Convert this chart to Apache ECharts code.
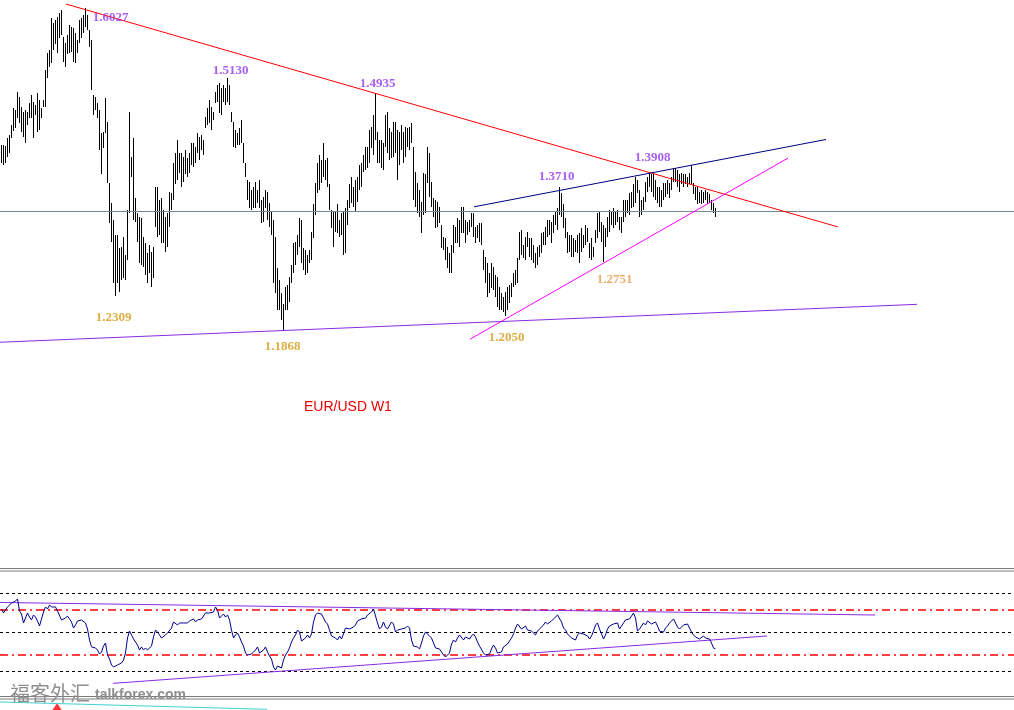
<!DOCTYPE html>
<html>
<head>
<meta charset="utf-8">
<script src="https://cdn.jsdelivr.net/npm/echarts@6/dist/echarts.min.js"></script>
<style>html,body{margin:0;padding:0;background:#fff}#c{width:1014px;height:710px}</style>
</head>
<body>
<div id="c"></div>
<script>
// Weekly EUR/USD bars (high / low), one value per week
const highs = [1.426,1.426,1.424,1.435,1.439,1.452,1.474,1.471,1.494,1.488,1.475,1.468,1.471,1.468,1.480,1.491,1.481,1.478,1.493,1.484,
1.474,1.484,1.523,1.545,1.549,1.590,1.584,1.587,1.591,1.596,1.600,1.565,1.558,1.568,1.581,1.578,1.577,1.571,1.562,1.587,
1.590,1.594,1.603,1.594,1.574,1.562,1.491,1.488,1.480,1.471,1.441,1.442,1.487,1.455,1.377,1.351,1.329,1.310,1.310,1.293,
1.294,1.307,1.284,1.342,1.468,1.410,1.435,1.358,1.338,1.333,1.332,1.307,1.299,1.286,1.297,1.287,1.294,1.372,1.372,1.355,
1.358,1.342,1.333,1.338,1.365,1.364,1.403,1.415,1.432,1.415,1.415,1.410,1.419,1.409,1.415,1.428,1.429,1.423,1.441,1.436,
1.439,1.432,1.462,1.474,1.484,1.475,1.468,1.494,1.504,1.506,1.500,1.504,1.500,1.513,1.504,1.468,1.455,1.445,1.441,1.448,
1.458,1.429,1.402,1.381,1.378,1.368,1.372,1.378,1.368,1.381,1.355,1.359,1.368,1.365,1.351,1.339,1.329,1.307,1.267,1.251,
1.235,1.220,1.242,1.245,1.255,1.271,1.299,1.300,1.310,1.332,1.329,1.293,1.290,1.284,1.290,1.313,1.349,1.377,1.402,1.413,
1.406,1.428,1.406,1.409,1.375,1.342,1.339,1.339,1.349,1.329,1.338,1.339,1.345,1.355,1.375,1.385,1.372,1.381,1.384,1.400,
1.403,1.413,1.423,1.423,1.445,1.449,1.465,1.493,1.442,1.432,1.432,1.429,1.465,1.468,1.448,1.442,1.455,1.455,1.445,1.442,
1.452,1.442,1.449,1.448,1.449,1.454,1.423,1.391,1.377,1.368,1.352,1.390,1.388,1.423,1.415,1.378,1.358,1.355,1.352,1.346,
1.323,1.307,1.306,1.294,1.286,1.297,1.323,1.320,1.332,1.329,1.346,1.346,1.329,1.326,1.329,1.338,1.338,1.320,1.323,1.325,
1.325,1.290,1.281,1.273,1.260,1.273,1.268,1.258,1.255,1.242,1.235,1.230,1.236,1.242,1.245,1.247,1.260,1.264,1.280,1.313,
1.316,1.297,1.307,1.313,1.306,1.306,1.297,1.286,1.294,1.297,1.312,1.313,1.320,1.329,1.329,1.326,1.336,1.339,1.345,1.371,
1.364,1.349,1.332,1.313,1.310,1.310,1.306,1.303,1.310,1.312,1.319,1.310,1.323,1.319,1.299,1.306,1.294,1.316,1.338,1.339,
1.326,1.323,1.319,1.333,1.342,1.339,1.345,1.339,1.342,1.333,1.333,1.355,1.355,1.355,1.364,1.365,1.375,1.384,1.381,1.368,
1.355,1.359,1.378,1.385,1.390,1.388,1.388,1.381,1.371,1.371,1.368,1.377,1.377,1.381,1.377,1.385,1.396,1.396,1.394,1.388,
1.390,1.388,1.388,1.384,1.390,1.400,1.377,1.372,1.371,1.365,1.368,1.365,1.368,1.365,1.362,1.355,1.351,1.345];
const lows = [1.402,1.400,1.403,1.410,1.416,1.435,1.444,1.448,1.461,1.454,1.442,1.436,1.429,1.452,1.461,1.461,1.435,1.465,1.442,1.445,
1.461,1.475,1.475,1.513,1.527,1.532,1.549,1.556,1.545,1.564,1.568,1.533,1.527,1.543,1.545,1.546,1.533,1.532,1.545,1.558,
1.564,1.570,1.578,1.574,1.553,1.497,1.465,1.471,1.461,1.419,1.388,1.422,1.441,1.377,1.325,1.300,1.247,1.231,1.247,1.236,
1.251,1.254,1.251,1.277,1.338,1.385,1.329,1.326,1.300,1.273,1.271,1.268,1.258,1.248,1.260,1.242,1.254,1.320,1.307,1.310,
1.299,1.299,1.287,1.294,1.320,1.342,1.355,1.375,1.381,1.390,1.372,1.378,1.388,1.384,1.390,1.400,1.397,1.403,1.416,1.406,
1.419,1.413,1.448,1.452,1.454,1.445,1.458,1.480,1.481,1.467,1.465,1.481,1.478,1.481,1.478,1.455,1.423,1.422,1.426,1.426,
1.429,1.402,1.384,1.355,1.345,1.342,1.345,1.345,1.351,1.345,1.325,1.326,1.345,1.329,1.320,1.310,1.248,1.235,1.213,1.213,
1.200,1.187,1.213,1.213,1.223,1.247,1.260,1.271,1.284,1.294,1.274,1.264,1.258,1.260,1.273,1.277,1.306,1.336,1.364,1.368,
1.377,1.384,1.381,1.372,1.342,1.319,1.294,1.313,1.312,1.307,1.310,1.284,1.286,1.323,1.345,1.351,1.346,1.339,1.352,1.368,
1.371,1.391,1.394,1.396,1.403,1.422,1.413,1.432,1.403,1.402,1.396,1.394,1.423,1.416,1.406,1.409,1.410,1.416,1.381,1.400,
1.419,1.403,1.410,1.423,1.419,1.428,1.355,1.346,1.338,1.333,1.312,1.336,1.338,1.377,1.359,1.346,1.333,1.319,1.320,1.325,
1.293,1.290,1.277,1.267,1.260,1.260,1.286,1.299,1.299,1.294,1.312,1.312,1.299,1.310,1.313,1.320,1.307,1.299,1.306,1.300,
1.297,1.264,1.248,1.229,1.235,1.241,1.239,1.230,1.217,1.213,1.213,1.210,1.205,1.213,1.222,1.229,1.242,1.245,1.248,1.277,
1.284,1.280,1.277,1.294,1.281,1.277,1.274,1.267,1.271,1.281,1.286,1.297,1.297,1.307,1.310,1.299,1.312,1.323,1.316,1.336,
1.333,1.319,1.306,1.286,1.287,1.281,1.281,1.287,1.286,1.274,1.287,1.293,1.297,1.300,1.280,1.277,1.281,1.299,1.306,1.313,
1.300,1.275,1.294,1.307,1.313,1.323,1.319,1.323,1.326,1.316,1.312,1.326,1.333,1.338,1.336,1.345,1.346,1.351,1.364,1.333,
1.336,1.342,1.352,1.365,1.372,1.365,1.359,1.355,1.351,1.346,1.346,1.355,1.359,1.362,1.358,1.368,1.378,1.378,1.372,1.365,
1.375,1.372,1.375,1.371,1.375,1.375,1.362,1.355,1.349,1.351,1.349,1.351,1.355,1.349,1.351,1.342,1.338,1.333];
// RSI values, one per week
const rsi = [71.0,67.4,70.1,72.8,72.8,76.3,76.3,78.1,79.9,69.2,66.5,58.5,59.4,67.4,63.8,61.2,65.6,63.8,60.3,55.8,
62.1,68.3,72.8,71.0,74.6,72.8,71.9,72.8,69.2,70.1,61.2,61.2,62.9,64.7,62.1,59.4,54.0,56.7,60.3,59.4,
61.2,61.2,58.5,53.1,43.3,37.1,37.1,36.2,34.4,30.8,32.6,37.9,40.6,29.9,26.3,21.0,19.2,20.1,21.0,21.9,
22.8,25.4,31.7,45.1,51.3,50.4,44.2,41.5,38.8,34.4,37.1,34.4,36.2,34.4,33.5,37.9,46.0,52.2,50.4,48.7,
45.1,44.2,47.8,49.6,51.3,54.0,59.4,58.5,56.7,58.5,58.5,58.5,57.6,58.5,60.3,60.3,62.1,59.4,61.2,62.1,
62.1,63.8,67.4,68.3,67.4,68.3,68.3,72.8,70.1,62.9,64.7,66.5,63.8,65.6,61.2,52.2,45.1,47.8,49.6,46.0,
41.5,37.9,31.7,29.9,29.9,30.8,30.8,34.4,37.1,31.7,30.8,34.4,37.1,32.6,29.0,26.3,19.2,16.5,20.1,21.0,
18.3,25.4,29.9,32.6,36.2,41.5,45.1,47.8,52.2,50.4,42.4,43.3,45.1,47.8,45.1,48.7,59.4,65.6,67.4,66.5,
66.5,66.5,59.4,57.6,52.2,46.9,47.8,45.1,43.3,46.9,44.2,48.7,54.0,53.1,53.1,53.1,54.9,56.7,60.3,60.3,
62.1,61.2,62.9,65.6,65.6,68.3,71.0,70.1,58.5,53.1,54.9,59.4,54.9,53.1,54.0,59.4,57.6,50.4,52.2,53.1,
53.1,52.2,54.0,55.8,54.0,43.3,37.9,36.2,37.1,35.3,40.6,46.9,50.4,51.3,46.9,45.1,40.6,36.2,37.9,35.3,
32.6,29.9,28.1,27.2,31.7,39.7,43.3,41.5,45.1,47.8,46.9,43.3,46.0,46.9,44.2,46.9,48.7,46.0,41.5,37.9,
36.2,31.7,29.9,29.9,30.8,35.3,38.8,36.2,31.7,30.8,32.6,37.1,37.1,39.7,42.4,45.1,48.7,54.0,57.6,57.6,
53.1,53.1,55.8,52.2,53.1,51.3,50.4,47.8,51.3,53.1,53.1,56.7,59.4,57.6,57.6,60.3,62.1,63.8,65.6,65.6,
59.4,54.0,52.2,48.7,46.9,45.1,46.0,43.3,47.8,49.6,48.7,48.7,50.4,46.9,44.2,46.9,51.3,56.7,58.5,53.1,
48.7,44.2,47.8,53.1,55.8,56.7,57.6,56.7,58.5,53.1,53.1,58.5,61.2,62.1,62.1,62.9,67.4,62.9,51.3,53.1,
55.8,58.5,56.7,60.3,60.3,57.6,57.6,59.4,55.8,51.3,51.3,50.4,54.0,55.8,58.5,60.3,62.1,58.5,54.9,53.1,
54.0,56.7,56.7,57.6,54.0,50.4,47.8,46.0,46.0,44.2,43.3,46.9,45.1,46.0,44.2,40.6,36.2,35.3];
const rsiLevels = [85, 70, 50, 30, 15];
const currentPrice = 1.338;
// trend lines: [week index, price]
const resistanceLine = [[32.2, 1.608], [418.2, 1.320]];
const upperChannelLine = [[236.3, 1.346], [412.3, 1.433]];
const risingSupportLine = [[234.3, 1.175], [393.3, 1.409]];
const longSupportLine = [[-0.75, 1.171], [457.8, 1.220]];
// RSI trend lines: [week index, RSI]
const rsiUpperLine = [[-0.75, 76.8], [436.8, 65.6]];
const rsiLowerLine = [[55.8, 4.6], [382.8, 46.9]];
// lower indicator window
const lowerIndicatorLine = [[-0.75, 0.73], [132.8, 0.06]];
const lowerIndicatorMark = [[27.8, 0.25]];
// labelled swing points
const highLabels = ['1.6027', '1.5130', '1.4935', '1.3710', '1.3908'];
const highBars = [42, 113, 187, 279, 345];
const lowLabels = ['1.2309', '1.1868', '1.2050', '1.2751'];
const lowBars = [57, 141, 252, 301];
const chartTitle = 'EUR/USD W1';

const highOffsets = [[25, 10], [3, -7], [2, -9], [-3, -11], [-39, -7]];
const lowOffsets = [[-2, 22], [-1, 17], [1, 22], [11, 18]];
const lowColors = ['#d39a14', '#d39a14', '#d39a14', '#e59a4a'];

const chart = echarts.init(document.getElementById('c'), null, {renderer: 'canvas'});
const xa = (gi) => ({type: 'value', gridIndex: gi, min: -0.75, max: 506.25, show: false});
const lineSeries = (data, color, xi, w) => ({
  type: 'line', xAxisIndex: xi, yAxisIndex: xi, data: data, symbol: 'none', silent: true,
  lineStyle: {color: color, width: w || 1}, z: 5, animation: false
});
const labelFont = {fontFamily: '"Liberation Serif", "Times New Roman", serif', fontWeight: 'bold', fontSize: 13};

const highLabelData = highBars.map((b, k) => ({
  value: [b, highs[b]], name: highLabels[k],
  label: {offset: highOffsets[k], color: '#9536f0'}
}));
const lowLabelData = lowBars.map((b, k) => ({
  value: [b, lows[b]], name: lowLabels[k],
  label: {offset: lowOffsets[k], color: lowColors[k]}
}));

const levelStyles = rsiLevels.map(v => (v === 70 || v === 30)
  ? {yAxis: v, lineStyle: {color: '#ff0000', type: [8, 4, 2, 4], width: 1.5}}
  : {yAxis: v, lineStyle: {color: '#000000', type: [3, 3], width: 1}});

chart.setOption({
  backgroundColor: '#ffffff',
  animation: false,
  grid: [
    {left: 0, top: 0, width: 1014, height: 568},
    {left: 0, top: 571, width: 1014, height: 126},
    {left: 0, top: 699, width: 1014, height: 11}
  ],
  xAxis: [xa(0), xa(1), xa(2)],
  yAxis: [
    {type: 'value', gridIndex: 0, min: 0.8793, max: 1.6132, show: false},
    {type: 'value', gridIndex: 1, min: -7.59, max: 104.91, show: false},
    {type: 'value', gridIndex: 2, min: 0, max: 1, show: false}
  ],
  series: [
    {
      type: 'custom', xAxisIndex: 0, yAxisIndex: 0, silent: true, z: 3,
      data: highs.map((h, i) => [i, h, lows[i]]),
      renderItem: function (params, api) {
        const a = api.coord([api.value(0), api.value(1)]);
        const b = api.coord([api.value(0), api.value(2)]);
        const x = Math.floor(a[0]);
        const y1 = Math.round(a[1]);
        const y2 = Math.round(b[1]);
        return {type: 'rect', shape: {x: x, y: y1, width: 1, height: Math.max(1, y2 - y1)},
          style: {fill: '#000000'}};
      },
      markLine: {
        silent: true, symbol: 'none', label: {show: false},
        lineStyle: {color: '#778899', width: 1, type: 'solid'},
        data: [{yAxis: currentPrice}]
      }
    },
    lineSeries(resistanceLine, '#ff0000', 0),
    lineSeries(upperChannelLine, '#000080', 0),
    lineSeries(risingSupportLine, '#ff00ff', 0),
    lineSeries(longSupportLine, '#8a2be2', 0),
    {
      type: 'scatter', xAxisIndex: 0, yAxisIndex: 0, symbolSize: 1, silent: true, z: 10,
      itemStyle: {color: 'rgba(0,0,0,0)'},
      label: Object.assign({show: true, position: 'inside', formatter: '{b}'}, labelFont),
      data: highLabelData.concat(lowLabelData)
    },
    {
      type: 'line', xAxisIndex: 1, yAxisIndex: 1, symbol: 'none', silent: true, z: 6,
      data: rsi.map((v, i) => [i, v]),
      lineStyle: {color: '#000090', width: 1},
      markLine: {silent: true, symbol: 'none', label: {show: false}, data: levelStyles}
    },
    lineSeries(rsiUpperLine, '#8a2be2', 1),
    lineSeries(rsiLowerLine, '#8a2be2', 1),
    lineSeries(lowerIndicatorLine, '#40d0d0', 2),
    {
      type: 'scatter', xAxisIndex: 2, yAxisIndex: 2, silent: true, symbol: 'triangle',
      symbolSize: [11, 8], itemStyle: {color: '#ff0000'}, data: lowerIndicatorMark
    }
  ],
  graphic: [
    {type: 'line', shape: {x1: 0, y1: 568.5, x2: 1014, y2: 568.5}, style: {stroke: '#7a7a7a', lineWidth: 1}, silent: true},
    {type: 'line', shape: {x1: 0, y1: 571, x2: 1014, y2: 571}, style: {stroke: '#7a7a7a', lineWidth: 1}, silent: true},
    {type: 'line', shape: {x1: 0, y1: 696.5, x2: 1014, y2: 696.5}, style: {stroke: '#7a7a7a', lineWidth: 1}, silent: true},
    {type: 'line', shape: {x1: 0, y1: 699, x2: 1014, y2: 699}, style: {stroke: '#7a7a7a', lineWidth: 1}, silent: true},
    {type: 'text', left: 304, top: 400, silent: true,
      style: {text: chartTitle, fill: '#ee0000', font: '14px "Liberation Sans", Arial, sans-serif'}},
    {type: 'text', left: 10, top: 683, silent: true, z: 100,
      style: {text: '福客外汇', fill: '#8f8f8f', font: '20px "Noto Sans CJK SC", sans-serif',
        textShadowColor: '#444', textShadowOffsetX: 1, textShadowOffsetY: 1}},
    {type: 'text', left: 95, top: 688, silent: true, z: 100,
      style: {text: 'talkforex.com', fill: '#8f8f8f', font: 'bold 14px "Liberation Sans", Arial, sans-serif',
        textShadowColor: '#444', textShadowOffsetX: 1, textShadowOffsetY: 1}}
  ]
});
</script>
</body>
</html>
